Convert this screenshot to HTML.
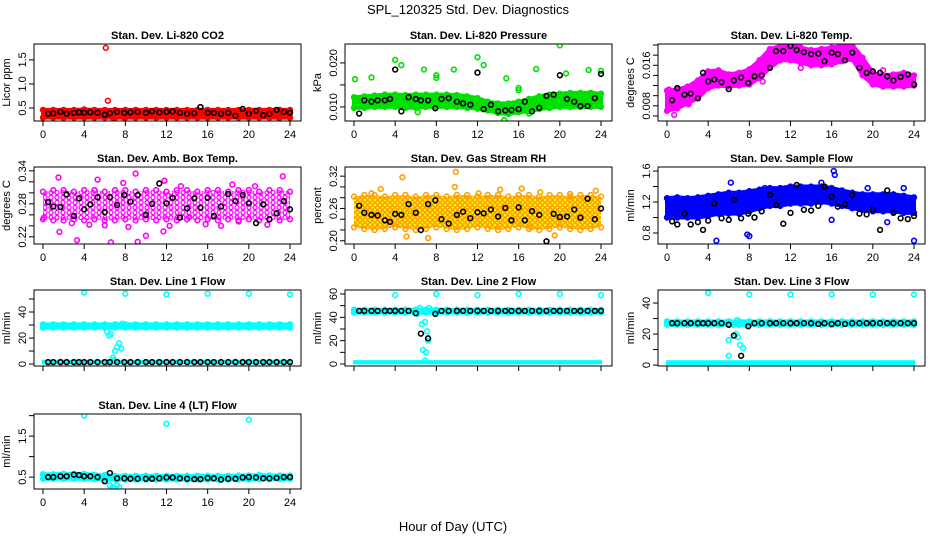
<!DOCTYPE html>
<html><head><meta charset="utf-8">
<style>
body{margin:0;background:#fff;}
svg{display:block;font-family:"Liberation Sans",sans-serif;}
</style></head>
<body>
<svg id="c" width="936" height="540" viewBox="0 0 936 540">
<defs>
<pattern id="pat-amb" width="6" height="5" patternUnits="userSpaceOnUse"><circle cx="3" cy="2.5" r="2" fill="none" stroke="#ff00ff" stroke-width="1.3"/></pattern>
<pattern id="pat-rh" width="5" height="5" patternUnits="userSpaceOnUse"><rect width="5" height="5" fill="#ffff00"/><circle cx="2.5" cy="2.5" r="1.8" fill="none" stroke="#ff9000" stroke-width="1.3"/></pattern>
</defs>
<text x="468" y="14" text-anchor="middle" font-size="13">SPL_120325  Std. Dev. Diagnostics</text>
<text x="453" y="531" text-anchor="middle" font-size="13">Hour of Day (UTC)</text>
</svg>
<script>
// ---- data ----
const xTicks=[0,4,8,12,16,20,24];
const bandHours=[0,1,2,3,4,5,6,7,8,9,10,11,12,13,14,15,16,17,18,19,20,21,22,23,24];
const blackHours=[0.5,1,1.7,2.3,3,3.5,4,4.6,5.3,6,6.5,7.2,7.9,8.5,9.2,10,10.6,11.3,12,12.6,13.3,14,14.7,15.3,16,16.6,17.3,18,18.7,19.4,20,20.7,21.4,22,22.7,23.4,24];

const co2Lo=[0.3,0.3,0.3,0.3,0.3,0.3,0.3,0.3,0.3,0.3,0.3,0.3,0.3,0.3,0.3,0.3,0.3,0.3,0.3,0.3,0.3,0.3,0.3,0.3,0.3];
const co2Hi=[0.46,0.46,0.46,0.46,0.47,0.46,0.46,0.46,0.46,0.46,0.46,0.46,0.46,0.46,0.46,0.46,0.46,0.46,0.46,0.46,0.46,0.46,0.46,0.46,0.46];
const co2Black=[0.38,0.39,0.42,0.38,0.40,0.41,0.40,0.41,0.40,0.36,0.39,0.42,0.40,0.41,0.42,0.40,0.43,0.41,0.42,0.43,0.40,0.38,0.39,0.52,0.40,0.40,0.38,0.40,0.34,0.48,0.38,0.44,0.35,0.38,0.46,0.42,0.40];
const co2OutX=[6.1,6.3,6.8,7.9,22.9,24];
const co2OutY=[1.75,0.65,0.3,0.3,0.3,0.3];

const presLo=[0.0098,0.0098,0.0100,0.0100,0.0100,0.0098,0.0098,0.0100,0.0100,0.0100,0.0100,0.0098,0.0096,0.0092,0.0086,0.0084,0.0088,0.0090,0.0095,0.0098,0.0100,0.0100,0.0100,0.0100,0.0100];
const presHi=[0.0122,0.0124,0.0126,0.0128,0.0128,0.0127,0.0128,0.0128,0.0128,0.0128,0.0127,0.0124,0.0120,0.0112,0.0108,0.0108,0.0112,0.0118,0.0124,0.0128,0.0130,0.0132,0.0132,0.0132,0.0130];
const presBlack=[0.0085,0.0115,0.0112,0.0115,0.0115,0.0118,0.0185,0.0090,0.0122,0.0118,0.0115,0.0115,0.0097,0.0118,0.0120,0.0112,0.0108,0.0105,0.0178,0.0095,0.0105,0.0090,0.0092,0.0093,0.0095,0.0112,0.0090,0.0098,0.0125,0.0128,0.0172,0.0118,0.0112,0.0102,0.0102,0.0120,0.0175];
const presOutX=[0.1,1.7,4,4.6,6.8,8,8,9.7,12,12.6,14.8,16,16,17.7,20,20.6,22.8,24,14.6,6.2,17];
const presOutY=[0.0163,0.0167,0.0207,0.0195,0.0185,0.0172,0.0166,0.0185,0.0213,0.0195,0.0165,0.0143,0.0138,0.0186,0.0240,0.0176,0.0184,0.0182,0.0070,0.0088,0.0085];

const tempLo=[0.0070,0.0075,0.0085,0.0095,0.0115,0.0120,0.0118,0.0120,0.0122,0.0135,0.0155,0.0170,0.0170,0.0165,0.0160,0.0160,0.0162,0.0168,0.0172,0.0140,0.0122,0.0118,0.0118,0.0118,0.0120];
const tempHi=[0.0110,0.0112,0.0118,0.0130,0.0148,0.0150,0.0142,0.0145,0.0152,0.0170,0.0192,0.0198,0.0202,0.0195,0.0190,0.0192,0.0195,0.0198,0.0200,0.0175,0.0145,0.0140,0.0142,0.0145,0.0140];
const tempBlack=[0.0091,0.0115,0.0102,0.0104,0.0095,0.0145,0.0128,0.0132,0.0127,0.0113,0.0130,0.0136,0.0125,0.0138,0.0140,0.0155,0.0188,0.0188,0.0198,0.0190,0.0186,0.0182,0.0183,0.0168,0.0185,0.0182,0.0170,0.0185,0.0155,0.0145,0.0148,0.0145,0.0138,0.0130,0.0137,0.0142,0.0122];
const tempOutX=[0.7,2.1,1.5,0.2,13,21,9.3];
const tempOutY=[0.0062,0.0083,0.0106,0.0112,0.0155,0.0150,0.0128];

const ambLo=[0.252,0.25,0.25,0.252,0.25,0.252,0.25,0.25,0.252,0.25,0.252,0.25,0.252,0.25,0.252,0.25,0.252,0.25,0.252,0.25,0.252,0.25,0.252,0.25,0.252];
const ambHi=[0.302,0.305,0.305,0.302,0.305,0.305,0.302,0.305,0.305,0.302,0.305,0.305,0.302,0.305,0.305,0.302,0.305,0.305,0.302,0.305,0.305,0.302,0.305,0.305,0.302];
const ambBlack=[0.283,0.275,0.274,0.297,0.258,0.290,0.270,0.279,0.292,0.265,0.292,0.278,0.296,0.284,0.296,0.260,0.280,0.317,0.281,0.291,0.255,0.272,0.290,0.273,0.291,0.258,0.275,0.298,0.285,0.296,0.281,0.245,0.279,0.252,0.263,0.285,0.270];
const ambOutX=[1.5,1.6,3.3,5.3,6.6,9,9.2,10,11.7,11.8,12.3,14.2,17.3,18.4,20.6,23.3,7.8,0.1,2.8,4.5,6,8.3,13.4,15.8,19,21.8];
const ambOutY=[0.328,0.229,0.214,0.324,0.210,0.335,0.211,0.222,0.230,0.322,0.240,0.256,0.240,0.315,0.312,0.330,0.318,0.255,0.245,0.242,0.241,0.238,0.312,0.243,0.248,0.242];

const rhLo=[0.225,0.222,0.22,0.222,0.225,0.222,0.22,0.222,0.225,0.222,0.22,0.222,0.225,0.222,0.22,0.222,0.225,0.222,0.22,0.222,0.225,0.222,0.22,0.222,0.225];
const rhHi=[0.282,0.285,0.285,0.282,0.285,0.285,0.282,0.285,0.285,0.282,0.285,0.285,0.282,0.285,0.285,0.282,0.285,0.285,0.282,0.285,0.285,0.282,0.285,0.285,0.282];
const rhBlack=[0.265,0.252,0.248,0.247,0.238,0.235,0.250,0.248,0.268,0.252,0.220,0.268,0.275,0.240,0.232,0.248,0.254,0.242,0.253,0.251,0.258,0.245,0.261,0.238,0.262,0.238,0.255,0.248,0.199,0.250,0.244,0.245,0.258,0.243,0.278,0.240,0.260];
const rhOutX=[4.7,9.9,5.1,7.2,9.8,14.2,16.3,21,23.5,19.5,17.2,1.7,2.6,12.1,18.1];
const rhOutY=[0.318,0.328,0.208,0.205,0.300,0.295,0.297,0.287,0.293,0.210,0.225,0.288,0.296,0.288,0.290];

const sfLo=[1.0,1.0,1.0,1.0,1.02,1.05,1.05,1.05,1.08,1.12,1.15,1.15,1.18,1.18,1.18,1.2,1.18,1.15,1.12,1.1,1.08,1.08,1.08,1.06,1.06];
const sfHi=[1.25,1.26,1.25,1.26,1.28,1.3,1.32,1.32,1.34,1.36,1.38,1.38,1.4,1.4,1.4,1.4,1.38,1.35,1.32,1.3,1.3,1.3,1.3,1.28,1.26];
const sfBlack=[0.95,0.91,1.05,0.91,0.94,0.84,0.96,1.18,0.99,0.97,1.23,0.99,1.05,1.0,1.08,1.29,1.16,0.92,1.06,1.42,1.1,1.09,1.15,1.4,1.27,1.14,1.17,1.29,1.05,1.04,1.1,0.84,1.35,1.06,0.99,0.98,1.02];
const sfOutX=[4.8,7.8,8,16.2,16.3,16,21.4,24,6.2,9.5,15,19.5,23];
const sfOutY=[0.7,0.78,0.76,1.6,1.55,0.97,0.94,0.7,1.45,1.38,1.45,1.38,1.38];

const l1Lo=[28,28,28,28,28,28,28,28,28,28,28,28,28,28,28,28,28,28,28,28,28,28,28,28,28];
const l1Hi=[30.5,30.5,30.5,30.5,30.5,30.5,30.5,30.5,30.5,30.5,30.5,30.5,30.5,30.5,30.5,30.5,30.5,30.5,30.5,30.5,30.5,30.5,30.5,30.5,30.5];
const l1Black=[1.5,1.5,1.5,1.5,1.5,1.5,1.5,1.5,1.5,1.5,1.5,1.5,1.5,1.5,1.5,1.5,1.5,1.5,1.5,1.5,1.5,1.5,1.5,1.5,1.5,1.5,1.5,1.5,1.5,1.5,1.5,1.5,1.5,1.5,1.5,1.5,1.5];
const l1OutX=[4,8,12,16,20,24,6.2,6.4,6.6,6.8,7,7.2,7.4,7.6,7.7,6.9];
const l1OutY=[55,54,53.5,54,54,53.5,25,22,23,5,10,13,16,12,31,3];

const l2Lo=[44,44,44,44,44,44,44,44,44,44,44,44,44,44,44,44,44,44,44,44,44,44,44,44,44];
const l2Hi=[46.5,46.5,46.5,46.5,46.5,46.5,46.5,46.5,46.5,46.5,46.5,46.5,46.5,46.5,46.5,46.5,46.5,46.5,46.5,46.5,46.5,46.5,46.5,46.5,46.5];
const l2Black=[45.5,45.5,45.5,45.5,45.5,45.5,45.5,45.5,45.5,43.5,26,22,43,45.5,45.5,45.5,45.5,45.5,45.5,45.5,45.5,45.5,45.5,45.5,45.5,45.5,45.5,45.5,45.5,45.5,45.5,45.5,45.5,45.5,45.5,45.5,45.5];
const l2OutX=[4,8,12,16,20,24,6.2,6.6,6.7,6.9,7,7.1,7.2,6.4,7.3,6.9];
const l2OutY=[59,60,59,60,60,59,43,34,12,36,10,28,20,48,48,3];

const l3Lo=[26,26,26,26,26,26,26,26,26,26,26,26,26,26,26,26,26,26,26,26,26,26,26,26,26];
const l3Hi=[28.2,28.2,28.2,28.2,28.2,28.2,28.2,28.2,28.2,28.2,28.2,28.2,28.2,28.2,28.2,28.2,28.2,28.2,28.2,28.2,28.2,28.2,28.2,28.2,28.2];
const l3Black=[27,27,27,27,27,27,27,27,27,26,19,6,25,27,27,27,27,27,27,27,27,27,26.5,27,26.5,27,26.5,27,27,27,27,27,27,27,27,27,27];
const l3OutX=[4,8,12,16,20,24,6,6.7,6.9,7.1,7.4,6.8,6,6.4];
const l3OutY=[46.5,45.5,45.5,45.5,45.5,45.5,16,20,18,13,11,29,6,26];

const l4Lo=[0.46,0.46,0.46,0.46,0.46,0.45,0.45,0.44,0.44,0.44,0.44,0.44,0.44,0.44,0.44,0.44,0.44,0.44,0.44,0.44,0.44,0.45,0.45,0.45,0.46];
const l4Hi=[0.57,0.57,0.58,0.58,0.58,0.56,0.55,0.53,0.53,0.53,0.53,0.53,0.53,0.53,0.53,0.53,0.53,0.53,0.53,0.54,0.54,0.55,0.54,0.54,0.54];
const l4Black=[0.5,0.5,0.52,0.52,0.56,0.55,0.52,0.52,0.5,0.4,0.6,0.47,0.47,0.46,0.46,0.46,0.46,0.47,0.49,0.49,0.47,0.46,0.45,0.45,0.48,0.47,0.44,0.46,0.46,0.49,0.5,0.49,0.47,0.47,0.48,0.5,0.5];
const l4OutX=[4,12,20,6.5,6.8,7.0,7.2,7.4];
const l4OutY=[2.0,1.8,1.9,0.3,0.25,0.22,0.3,0.25];

// ---- layout ----
const colL=[34,345,658], colW=267;
const rowT=[44,167,290,414], rowB=[121,244,366,489];
const panels=[
 {id:'co2',title:'Stan. Dev. Li-820 CO2',c:0,r:0,dom:[0.23,1.83],yl:'Licor ppm',ticks:[0.5,1,1.5],labs:['0.5','1.0','1.5'],col:'#ff0000',lo:co2Lo,hi:co2Hi,bk:co2Black,ox:co2OutX,oy:co2OutY,xl:true},
 {id:'pressure',title:'Stan. Dev. Li-820 Pressure',c:1,r:0,dom:[0.0068,0.0243],yl:'kPa',ticks:[0.010,0.015,0.020],labs:['0.010','','0.020'],col:'#00e000',lo:presLo,hi:presHi,bk:presBlack,ox:presOutX,oy:presOutY,xl:true},
 {id:'temp',title:'Stan. Dev. Li-820 Temp.',c:2,r:0,dom:[0.005,0.0202],yl:'degrees C',ticks:[0.006,0.008,0.010,0.012,0.014,0.016,0.018,0.020],labs:['','0.008','','','','0.016','',''],col:'#ff00ff',lo:tempLo,hi:tempHi,bk:tempBlack,ox:tempOutX,oy:tempOutY,xl:true},
 {id:'amb-box',title:'Stan. Dev. Amb. Box Temp.',c:0,r:1,dom:[0.207,0.347],yl:'degrees C',ticks:[0.22,0.24,0.26,0.28,0.30,0.32,0.34],labs:['0.22','','','0.28','','','0.34'],col:'#ff00ff',fill:'url(#pat-amb)',lo:ambLo,hi:ambHi,bk:ambBlack,ox:ambOutX,oy:ambOutY,xl:true},
 {id:'gas-rh',title:'Stan. Dev. Gas Stream RH',c:1,r:1,dom:[0.194,0.337],yl:'percent',ticks:[0.20,0.22,0.24,0.26,0.28,0.30,0.32],labs:['0.20','','','0.26','','','0.32'],col:'#ffa000',fill:'url(#pat-rh)',lo:rhLo,hi:rhHi,bk:rhBlack,ox:rhOutX,oy:rhOutY,xl:true},
 {id:'sample-flow',title:'Stan. Dev. Sample Flow',c:2,r:1,dom:[0.658,1.652],yl:'ml/min',ticks:[0.8,1.0,1.2,1.4,1.6],labs:['0.8','','1.2','','1.6'],col:'#0000ff',lo:sfLo,hi:sfHi,bk:sfBlack,ox:sfOutX,oy:sfOutY,xl:true},
 {id:'line1',title:'Stan. Dev. Line 1 Flow',c:0,r:2,dom:[-1.5,56.9],yl:'ml/min',ticks:[0,10,20,30,40,50],labs:['0','','20','','40',''],col:'#00ffff',lo:l1Lo,hi:l1Hi,bk:l1Black,ox:l1OutX,oy:l1OutY,xl:false,low:true},
 {id:'line2',title:'Stan. Dev. Line 2 Flow',c:1,r:2,dom:[-1.7,63.4],yl:'ml/min',ticks:[0,10,20,30,40,50,60],labs:['0','','20','','40','','60'],col:'#00ffff',lo:l2Lo,hi:l2Hi,bk:l2Black,ox:l2OutX,oy:l2OutY,xl:false,low:true},
 {id:'line3',title:'Stan. Dev. Line 3 Flow',c:2,r:2,dom:[-0.6,48.4],yl:'ml/min',ticks:[0,10,20,30,40],labs:['0','','20','','40'],col:'#00ffff',lo:l3Lo,hi:l3Hi,bk:l3Black,ox:l3OutX,oy:l3OutY,xl:false,low:true},
 {id:'line4',title:'Stan. Dev. Line 4 (LT) Flow',c:0,r:3,dom:[0.21,2.04],yl:'ml/min',ticks:[0.5,1.0,1.5,2.0],labs:['0.5','','1.5',''],col:'#00ffff',lo:l4Lo,hi:l4Hi,bk:l4Black,ox:l4OutX,oy:l4OutY,xl:true}
];
const NS='http://www.w3.org/2000/svg';
const svg=document.getElementById('c');
function mk(tag,attrs,parent){const e=document.createElementNS(NS,tag);for(const k in attrs)e.setAttribute(k,attrs[k]);(parent||svg).appendChild(e);return e;}

panels.forEach(p=>{
 const L=colL[p.c],R=L+colW,T=rowT[p.r],B=rowB[p.r];
 const X=h=>L+9+h*(colW-20)/24;
 const Y=v=>B-(v-p.dom[0])/(p.dom[1]-p.dom[0])*(B-T);
 const g=mk('g',{});
 
 
 const clip=mk('clipPath',{id:'cl'+p.id},g);
 mk('rect',{x:L,y:T,width:colW,height:B-T},clip);
 const pg=mk('g',{'clip-path':'url(#cl'+p.id+')'},g);
 let pts=bandHours.map((h,i)=>X(h)+','+Y(p.hi[i]));
 pts=pts.concat(bandHours.slice().reverse().map((h,j)=>{const i=bandHours.length-1-j;return X(h)+','+Y(p.lo[i]);}));
 const band=mk('polygon',{points:pts.join(' '),fill:p.fill||p.col,stroke:p.fill?'none':p.col,'stroke-width':4,'stroke-linejoin':'round'},pg);
 
 
 if(p.low){const lp=[X(0)+','+Y(0.5),X(24)+','+Y(0.5),X(24)+','+Y(2.5),X(0)+','+Y(2.5)];
  const lb=mk('polygon',{points:lp.join(' '),fill:p.col,stroke:p.col,'stroke-width':2},pg);
  
  }
 bandHours.forEach((h,i)=>{
  [p.lo[i],p.hi[i]].forEach(v=>{const c=mk('circle',{cx:X(h),cy:Y(v),r:2.4,fill:'none',stroke:p.col,'stroke-width':1.6},pg);
   
   });
 });
 p.ox.forEach((h,i)=>{const c=mk('circle',{cx:X(h),cy:Y(p.oy[i]),r:2.4,fill:'none',stroke:p.col,'stroke-width':1.6},pg);
  
  });
 blackHours.forEach((h,i)=>{const c=mk('circle',{cx:X(h),cy:Y(p.bk[i]),r:2.4,fill:'none',stroke:'#000','stroke-width':1.6},pg);
  
  });
 const bx=mk('rect',{x:L,y:T,width:colW,height:B-T,fill:'none',stroke:'#000','stroke-width':1},g);
 
 
 const t=mk('text',{x:(L+R)/2,y:T-5,'text-anchor':'middle','font-size':11,'font-weight':'bold'},g);
 t.textContent=p.title;
 
 
 xTicks.forEach(h=>{mk('line',{x1:X(h),x2:X(h),y1:B,y2:B+5,stroke:'#000'},g);
  if(p.xl){const tl=mk('text',{x:X(h),y:B+17,'text-anchor':'middle','font-size':11},g);tl.textContent=h;
   
   }});
 p.ticks.forEach((v,i)=>{const yy=Y(v);mk('line',{x1:L-5,x2:L,y1:yy,y2:yy,stroke:'#000'},g);
  if(p.labs[i]){const tl=mk('text',{x:L-8,y:yy,'text-anchor':'middle','font-size':11,transform:'rotate(-90 '+(L-8)+' '+yy+')'},g);tl.textContent=p.labs[i];
   
   }});
 const ya=mk('text',{x:L-24,y:(T+B)/2,'text-anchor':'middle','font-size':11,transform:'rotate(-90 '+(L-24)+' '+((T+B)/2)+')'},g);
 ya.textContent=p.yl;
 
 
});
</script>
</body></html>
